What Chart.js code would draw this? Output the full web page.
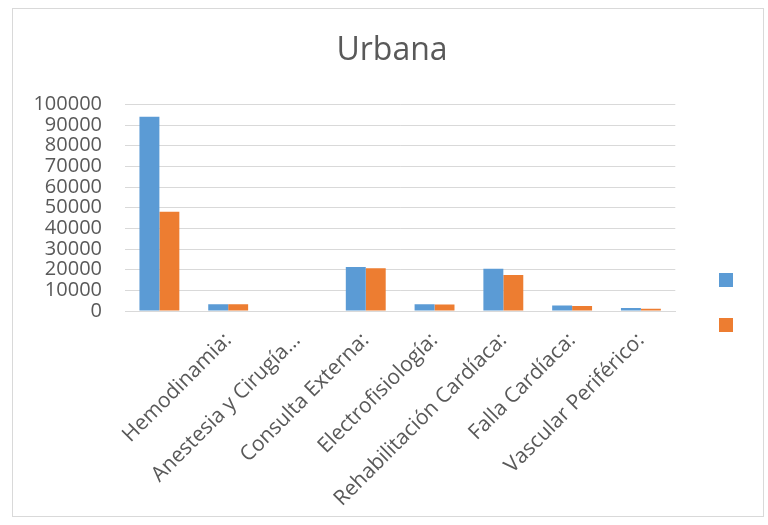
<!DOCTYPE html>
<html>
<head>
<meta charset="utf-8">
<script src="https://cdn.jsdelivr.net/npm/chart.js@4"></script>
<style>
  body { margin: 0; background: #fff; }
  #frame { position: absolute; left: 12px; top: 8px; width: 752px; height: 509px; border: 1px solid #d9d9d9; box-sizing: border-box; }
  #urbanaChart { position: absolute; left: 0; top: 0; }
</style>
</head>
<body>
<div id="frame"></div>
<canvas id="urbanaChart" width="768" height="525"></canvas>
<script>
// Urbana: servicios (first category has no label in the source sheet)
const categories = ['', 'Hemodinamia:', 'Anestesia y Cirugía…', 'Consulta Externa:', 'Electrofisiología:',
    'Rehabilitación Cardíaca:', 'Falla Cardíaca:', 'Vascular Periférico:'];
const serie1 = [94000, 3300, 0, 21300, 3300, 20500, 2700, 1400];
const serie2 = [48000, 3300, 0, 20700, 3200, 17400, 2400, 1100];
const seriesNames = ['', ''];
const yMin = 0, yMax = 100000, yStep = 10000;

const textGrey = '#595959';
const gridGrey = '#d9d9d9';

const ctxUrbana = document.getElementById('urbanaChart').getContext('2d');
const urbanaChart = new Chart(ctxUrbana, {
    type: 'bar',
    data: {
        labels: categories,
        datasets: [{
            label: seriesNames[0],
            data: serie1,
            backgroundColor: '#5B9BD5' // blue
        }, {
            label: seriesNames[1],
            data: serie2,
            backgroundColor: '#ED7D31' // orange
        }]
    },
    options: {
        responsive: false,
        animation: false,
        layout: { padding: { top: 10, left: 20, right: 4, bottom: 10 } },
        categoryPercentage: 0.58,
        barPercentage: 1,
        plugins: {
            title: {
                display: true,
                text: 'Urbana',
                color: textGrey,
                font: { family: 'Open Sans', size: 32, weight: 'normal' },
                padding: { top: 22, bottom: 34 }
            },
            legend: {
                position: 'right',
                rtl: true,
                // empty title only pushes the two squares down
                title: { display: true, text: ' ', font: { size: 14 }, padding: { top: 32, bottom: 31 } },
                labels: {
                    boxWidth: 14,
                    boxHeight: 14,
                    padding: 31,
                    font: { family: 'DejaVu Sans', size: 14 },
                    // no series names, only blank room like the original legend
                    generateLabels: (chart) => Chart.defaults.plugins.legend.labels.generateLabels(chart)
                        .map(item => Object.assign(item, { text: item.text + '      ', lineWidth: 0 }))
                }
            },
            tooltip: { enabled: false }
        },
        scales: {
            x: {
                grid: { display: false },
                border: { color: gridGrey },
                ticks: {
                    color: textGrey,
                    padding: 9,
                    font: { family: 'Open Sans', size: 21 },
                    minRotation: 45,
                    maxRotation: 45,
                    autoSkip: false
                },
                afterFit: (scale) => { scale.height = 204; }
            },
            y: {
                min: yMin,
                max: yMax,
                grid: { color: gridGrey, drawTicks: false },
                border: { display: false },
                ticks: {
                    stepSize: yStep,
                    autoSkip: false,
                    color: textGrey,
                    padding: 23,
                    font: { family: 'Open Sans', size: 20 },
                    callback: (v) => String(v)
                },
                afterFit: (scale) => { scale.width = 105; }
            }
        }
    }
});
</script>
</body>
</html>
